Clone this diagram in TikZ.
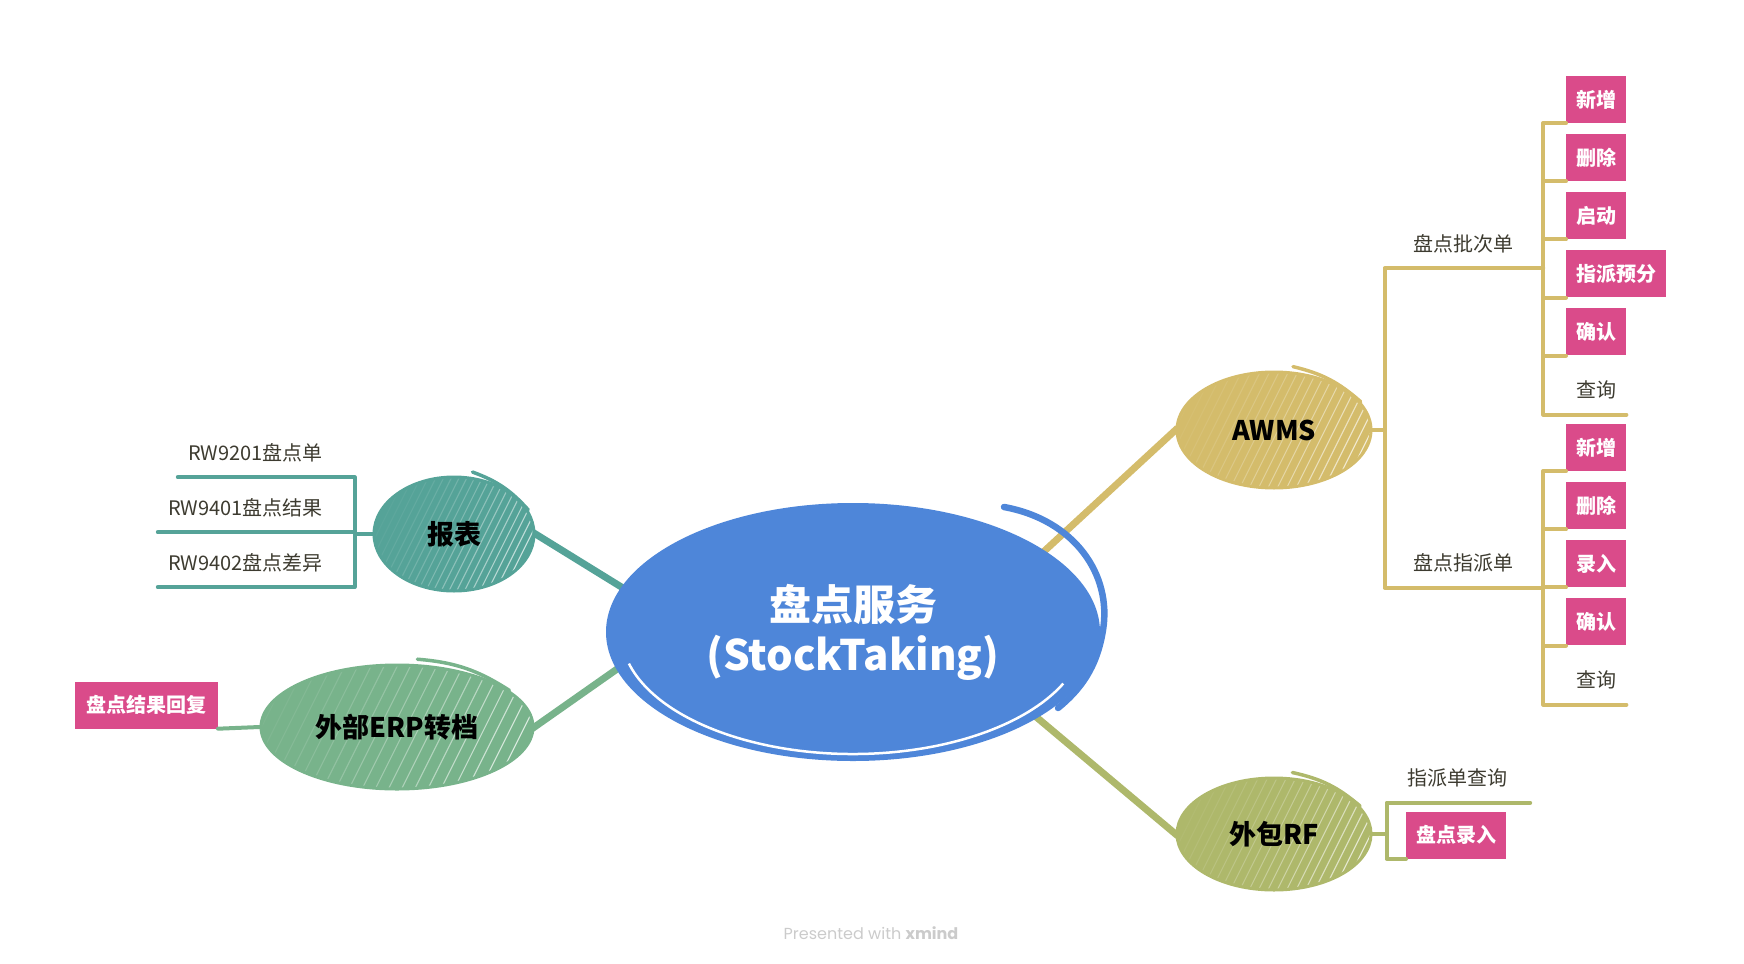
\documentclass[tikz,border=0pt]{standalone}
\usepackage{fontspec}
\setmainfont{Noto Sans CJK SC}
\newfontfamily\footfont{Poppins}
\usetikzlibrary{shapes.geometric,backgrounds,calc}

\definecolor{cblue}{HTML}{4E86D9}
\definecolor{cteal}{HTML}{55A398}
\definecolor{cgreen}{HTML}{78B38B}
\definecolor{cgold}{HTML}{D4BC6B}
\definecolor{colive}{HTML}{AEB86B}
\definecolor{cpink}{HTML}{DA4B8A}
\definecolor{leaftext}{HTML}{3D3B30}
\definecolor{footgray}{HTML}{CBCBCB}

\begin{document}
\begin{tikzpicture}[x=1pt, y=-1pt,
    topic/.style={ellipse, inner sep=0pt, line width=3pt, text=black,
      font=\fontsize{27}{30}\selectfont\bfseries,
      path picture={
        \foreach \k in {0,...,30} {
          \pgfmathsetmacro\f{-0.45+1.45*\k/30}
          \pgfmathsetmacro\op{0.9*(\k/30)^2}
          \draw[white, line width=1.1pt, opacity=\op]
            ($(path picture bounding box.south west)!\f!(path picture bounding box.south east)$) -- ++(66,-132);
        }
      }},
    trunk/.style={line width=7pt, shorten <=-3pt, shorten >=-12pt},
    twig/.style={line width=4pt, line cap=round, line join=round},
    leaf/.style={font=\fontsize{20}{22}\selectfont, text=leaftext,
      text height=15pt, text depth=0pt, inner xsep=10pt, inner ysep=17pt},
    act/.style={leaf, fill=cpink, text=white, inner ysep=16pt,
      font=\fontsize{20}{22}\selectfont\bfseries}]
  \useasboundingbox (0,0) rectangle (1744,963);

  % central topic
  \node[ellipse, inner sep=0pt, fill=cblue, minimum width=494, minimum height=258,
    text=white, align=center, font=\fontsize{42}{50}\selectfont\bfseries]
    (stock) at (853,632) {盘点服务\\(StockTaking)};
  \draw[cblue, line width=6.5pt, line cap=round] (1004,507) .. controls (1075,520) and (1112,575) .. (1103,630)
    .. controls (1097,668) and (1080,690) .. (1058,708);
  \draw[white, line width=2.5pt] (stock.center) ++(165:232 and 122)
    arc[start angle=165, end angle=25, x radius=232, y radius=122];

  % main topics
  \node[topic, fill=cteal, draw=cteal, minimum width=160, minimum height=114] (rep) at (454,534) {报表};
  \node[topic, fill=cgreen, draw=cgreen, minimum width=272, minimum height=124] (erp) at (397,727) {外部ERP转档};
  \node[topic, fill=cgold, draw=cgold, minimum width=194, minimum height=116] (awms) at (1274,430) {AWMS};
  \node[topic, fill=colive, draw=colive, minimum width=194, minimum height=112] (rf) at (1274,834) {外包RF};
  \foreach \n/\cl in {rep/cteal, erp/cgreen, awms/cgold, rf/colive}
    \draw[\cl, line width=3.5pt, line cap=round] ($(\n.72)+(0,-5)$) to[bend left=14] (\n.18);

  \begin{scope}[on background layer]
    \draw[trunk, cteal] (rep.east) -- (stock.169);
    \draw[trunk, cgreen] (erp.east) -- (stock.189);
    \draw[trunk, cgold] (awms.west) -- (stock.23);
    \draw[trunk, colive] (rf.west) -- (stock.335);
  \end{scope}

  % 报表
  \foreach \t/\y [count=\i] in {RW9201盘点单/452.5, RW9401盘点结果/507.5, RW9402盘点差异/562.5} {
    \node[leaf, anchor=east] (rw\i) at (333,\y) {\t};
    \draw[twig, cteal] (rep.west) -- ++(-18,0) |- (rw\i.south west);
  }

  % 外部ERP转档
  \node[act, anchor=east, inner xsep=11.5pt] (reply) at (218,705) {盘点结果回复};
  \draw[twig, cgreen] (erp.west) -- (reply.south east);

  % AWMS
  \node[leaf, minimum width=160] (batch) at (1463,243.5) {盘点批次单};
  \node[leaf, minimum width=160] (assign) at (1463,563) {盘点指派单};
  \draw[twig, cgold] (awms.east) -- ++(12,0) |- (batch.south east);
  \draw[twig, cgold] (awms.east) -- ++(12,0) |- (assign.south east);

  \foreach \t [count=\i from 0] in {新增,删除,启动,指派预分,确认} {
    \node[act, anchor=west] (batch\i) at (1566,{99.5+58.1*\i}) {\t};
    \draw[twig, cgold] (batch.south east) |- (batch\i.south west);
  }
  \node[leaf, anchor=west, minimum width=60] (batchq) at (1566,390) {查询};
  \draw[twig, cgold] (batch.south east) |- (batchq.south east);

  \foreach \t [count=\i from 0] in {新增,删除,录入,确认} {
    \node[act, anchor=west] (assign\i) at (1566,{447.5+58.1*\i}) {\t};
    \draw[twig, cgold] (assign.south east) |- (assign\i.south west);
  }
  \node[leaf, anchor=west, minimum width=60] (assignq) at (1566,680) {查询};
  \draw[twig, cgold] (assign.south east) |- (assignq.south east);

  % 外包RF
  \node[leaf, minimum width=145] (rfq) at (1457.5,778) {指派单查询};
  \node[act, anchor=west] (rfin) at (1406,835) {盘点录入};
  \draw[twig, colive] (rf.east) -- ++(14,0) |- (rfq.south east);
  \draw[twig, colive] (rf.east) -- ++(14,0) |- (rfin.south west);

  \node[font=\footfont\fontsize{16}{18}\selectfont, text=footgray] (credit) at (871,933) {Presented with \textbf{xmind}};
\end{tikzpicture}
\end{document}
